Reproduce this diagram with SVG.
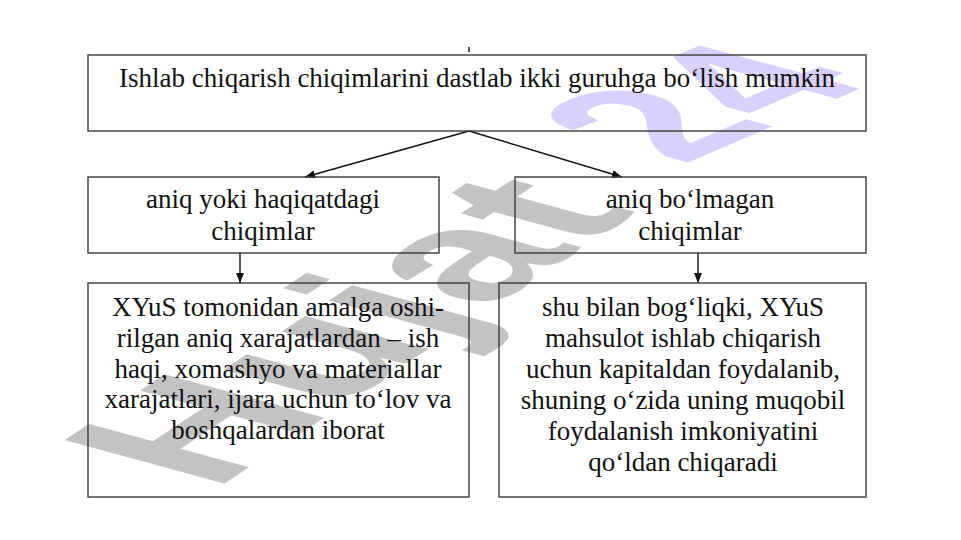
<svg xmlns="http://www.w3.org/2000/svg" width="961" height="540" viewBox="0 0 961 540">
<style>
.box{fill:none;stroke:#3a3a3a;stroke-width:1.4}
.t{font-family:"Liberation Serif","Times New Roman",serif;font-size:27px;fill:#111;text-anchor:middle}
.c{stroke:#111;stroke-width:1.4;fill:none}
.wm{font-family:"Liberation Sans",Arial,sans-serif;font-weight:bold;font-size:100px}
</style>
<defs>
<marker id="ah" viewBox="0 0 10 8" refX="10" refY="4" markerWidth="10" markerHeight="8" markerUnits="userSpaceOnUse" orient="auto">
<path d="M0,0 L10,4 L0,8 Z" fill="#111"/>
</marker>
</defs>
<rect width="961" height="540" fill="#fff"/>
<g id="watermark">
<text class="wm" fill="#c3c3c3" transform="matrix(1.70 -1.12 2.32 0.63 213 491)">Hujat</text>
<text class="wm" fill="#d9d1fb" transform="matrix(1.75 -0.75 2.32 0.63 682 165)">24</text>
</g>
<g id="connectors">
<line class="c" x1="469" y1="47" x2="469" y2="52"/>
<line class="c" x1="469" y1="131" x2="305" y2="177" marker-end="url(#ah)"/>
<line class="c" x1="469" y1="131" x2="622" y2="177" marker-end="url(#ah)"/>
<line class="c" x1="240" y1="253" x2="240" y2="283" marker-end="url(#ah)"/>
<line class="c" x1="698" y1="253" x2="698" y2="283" marker-end="url(#ah)"/>
</g>
<g id="top">
<rect class="box" x="88" y="55" width="778" height="76"/>
<text class="t" x="477" y="87">Ishlab chiqarish chiqimlarini dastlab ikki guruhga bo‘lish mumkin</text>
</g>
<g id="mid-left">
<rect class="box" x="88" y="177" width="351" height="76"/>
<text class="t" x="263" y="208">aniq yoki haqiqatdagi</text>
<text class="t" x="263" y="240">chiqimlar</text>
</g>
<g id="mid-right">
<rect class="box" x="515" y="177" width="351" height="76"/>
<text class="t" x="690" y="208">aniq bo‘lmagan</text>
<text class="t" x="690" y="240">chiqimlar</text>
</g>
<g id="bottom-left">
<rect class="box" x="88" y="283" width="381" height="214"/>
<text class="t" x="278" y="316">XYuS tomonidan amalga oshi-</text>
<text class="t" x="278" y="347">rilgan aniq xarajatlardan – ish</text>
<text class="t" x="278" y="377.5">haqi, xomashyo va materiallar</text>
<text class="t" x="278" y="408">xarajatlari, ijara uchun to‘lov va</text>
<text class="t" x="278" y="439">boshqalardan iborat</text>
</g>
<g id="bottom-right">
<rect class="box" x="499" y="283" width="367" height="214"/>
<text class="t" x="683" y="316">shu bilan bog‘liqki, XYuS</text>
<text class="t" x="683" y="347">mahsulot ishlab chiqarish</text>
<text class="t" x="683" y="378">uchun kapitaldan foydalanib,</text>
<text class="t" x="683" y="409">shuning o‘zida uning muqobil</text>
<text class="t" x="683" y="440">foydalanish imkoniyatini</text>
<text class="t" x="683" y="471">qo‘ldan chiqaradi</text>
</g>
</svg>
